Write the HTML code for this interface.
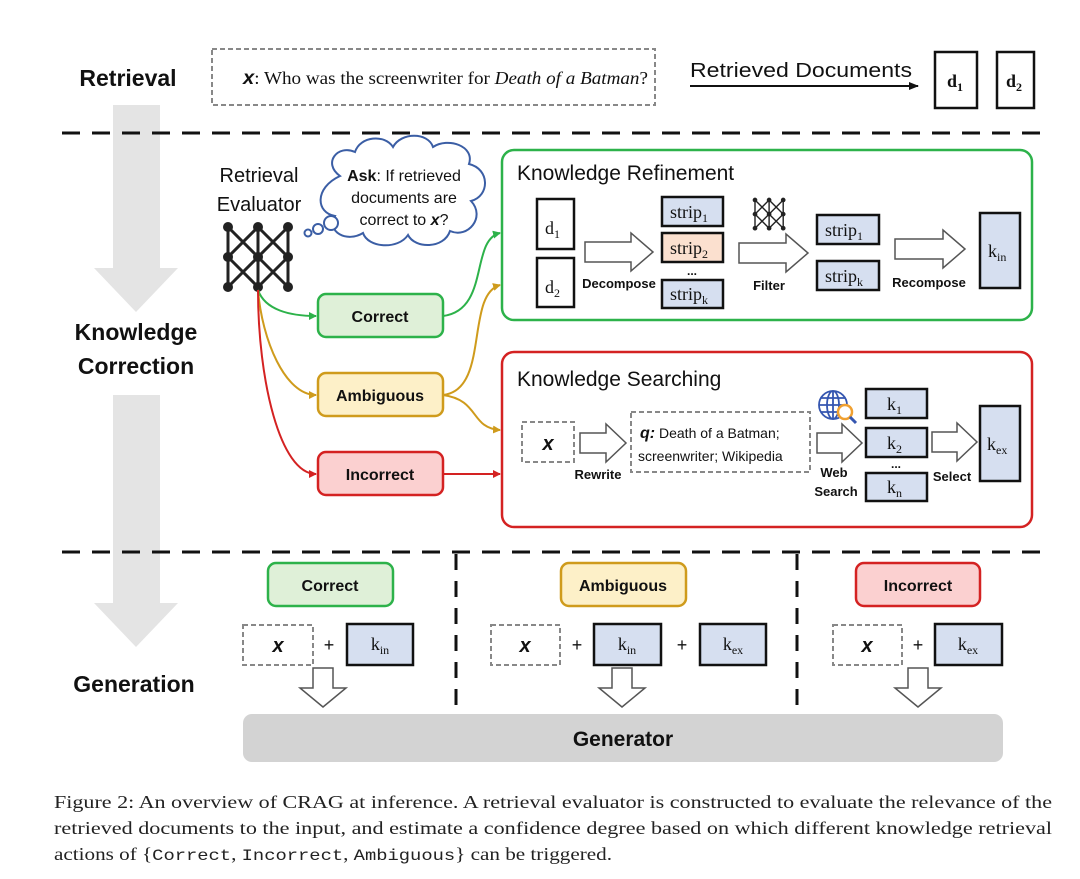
<!DOCTYPE html>
<html><head><meta charset="utf-8"><style>
html,body{margin:0;padding:0;background:#fff;}
svg{display:block;}
.s{font-family:"Liberation Sans",sans-serif;}
.sb{font-family:"Liberation Sans",sans-serif;font-weight:bold;}
.r{font-family:"Liberation Serif",serif;}
</style></head><body>
<svg width="1080" height="879" viewBox="0 0 1080 879" xmlns="http://www.w3.org/2000/svg">
<defs>
<g id="net">
 <g stroke="#222" stroke-width="3" fill="none">
  <line x1="0" y1="0" x2="0" y2="60"/><line x1="30" y1="0" x2="30" y2="60"/><line x1="60" y1="0" x2="60" y2="60"/>
  <line x1="0" y1="0" x2="30" y2="30"/><line x1="30" y1="0" x2="0" y2="30"/><line x1="30" y1="0" x2="60" y2="30"/><line x1="60" y1="0" x2="30" y2="30"/>
  <line x1="0" y1="30" x2="30" y2="60"/><line x1="30" y1="30" x2="0" y2="60"/><line x1="30" y1="30" x2="60" y2="60"/><line x1="60" y1="30" x2="30" y2="60"/>
 </g>
 <g fill="#222"><circle cx="0" cy="0" r="5"/><circle cx="30" cy="0" r="5"/><circle cx="60" cy="0" r="5"/><circle cx="0" cy="30" r="5"/><circle cx="30" cy="30" r="5"/><circle cx="60" cy="30" r="5"/><circle cx="0" cy="60" r="5"/><circle cx="30" cy="60" r="5"/><circle cx="60" cy="60" r="5"/></g>
</g>
<marker id="ag" markerWidth="8" markerHeight="8" refX="7" refY="4" orient="auto" markerUnits="userSpaceOnUse"><path d="M0,0 L8,4 L0,8 z" fill="#2db24a"/></marker>
<marker id="ay" markerWidth="8" markerHeight="8" refX="7" refY="4" orient="auto" markerUnits="userSpaceOnUse"><path d="M0,0 L8,4 L0,8 z" fill="#cf9b1c"/></marker>
<marker id="ar" markerWidth="8" markerHeight="8" refX="7" refY="4" orient="auto" markerUnits="userSpaceOnUse"><path d="M0,0 L8,4 L0,8 z" fill="#d42222"/></marker>
<marker id="ak" markerWidth="10" markerHeight="8" refX="9" refY="4" orient="auto" markerUnits="userSpaceOnUse"><path d="M0,0 L10,4 L0,8 z" fill="#111"/></marker>
</defs>

<polygon points="113,105 160,105 160,268 178,268 136,312 94,268 113,268" fill="#e4e4e4"/>
<polygon points="113,395 160,395 160,603 178,603 136,647 94,603 113,603" fill="#e4e4e4"/>

<text x="128" y="86" class="sb" font-size="23" text-anchor="middle" fill="#111">Retrieval</text>
<text x="136" y="340" class="sb" font-size="23" text-anchor="middle" fill="#111">Knowledge</text>
<text x="136" y="374" class="sb" font-size="23" text-anchor="middle" fill="#111">Correction</text>
<text x="134" y="692" class="sb" font-size="23" text-anchor="middle" fill="#111">Generation</text>

<rect x="212" y="49" width="443" height="56" fill="none" stroke="#888" stroke-width="2" stroke-dasharray="5,3"/>
<text x="243" y="84" class="r" font-size="18" fill="#111" textLength="405" lengthAdjust="spacingAndGlyphs"><tspan class="sb" font-style="italic" font-size="19">x</tspan>: Who was the screenwriter for <tspan font-style="italic">Death of a Batman</tspan>?</text>
<text x="690" y="77" class="s" font-size="20" fill="#111" textLength="222" lengthAdjust="spacingAndGlyphs">Retrieved Documents</text>
<line x1="690" y1="86" x2="918" y2="86" stroke="#111" stroke-width="2" marker-end="url(#ak)"/>
<rect x="935" y="52" width="42" height="56" fill="#fff" stroke="#111" stroke-width="2.5"/>
<text x="947" y="87" class="r" font-size="18" font-weight="bold" fill="#111">d<tspan font-size="12" dy="4">1</tspan></text>
<rect x="997" y="52" width="37" height="56" fill="#fff" stroke="#111" stroke-width="2.5"/>
<text x="1006" y="87" class="r" font-size="18" font-weight="bold" fill="#111">d<tspan font-size="12" dy="4">2</tspan></text>

<line x1="62" y1="133" x2="1045" y2="133" stroke="#111" stroke-width="3" stroke-dasharray="18,12"/>
<line x1="62" y1="552" x2="1045" y2="552" stroke="#111" stroke-width="3" stroke-dasharray="18,12"/>
<line x1="456" y1="554" x2="456" y2="715" stroke="#111" stroke-width="3" stroke-dasharray="16,11"/>
<line x1="797" y1="554" x2="797" y2="715" stroke="#111" stroke-width="3" stroke-dasharray="16,11"/>

<text x="259" y="182" class="s" font-size="20" text-anchor="middle" fill="#111">Retrieval</text>
<text x="259" y="211" class="s" font-size="20" text-anchor="middle" fill="#111">Evaluator</text>
<use href="#net" x="228" y="227"/>

<g fill="#fff" stroke="#3b5ea5" stroke-width="2">
<path d="M340,176 C322,163 338,144 355,152 C360,136 385,134 393,147 C401,132 428,132 433,147 C448,137 475,146 469,164 C490,169 490,196 471,201 C486,217 468,239 450,231 C444,249 415,249 408,235 C398,250 368,248 363,233 C347,243 326,232 335,216 C316,213 314,188 340,176 Z"/>
<circle cx="331" cy="223" r="7"/><circle cx="318" cy="229" r="5"/><circle cx="308" cy="233" r="3.5"/>
</g>
<text x="404" y="181" class="s" font-size="16" text-anchor="middle" fill="#111"><tspan font-weight="bold">Ask</tspan>: If retrieved</text>
<text x="404" y="203" class="s" font-size="16" text-anchor="middle" fill="#111">documents are</text>
<text x="404" y="225" class="s" font-size="16" text-anchor="middle" fill="#111">correct to <tspan font-weight="bold" font-style="italic">x</tspan>?</text>

<path d="M258,290 C265,310 290,316 316,316" fill="none" stroke="#2db24a" stroke-width="2" marker-end="url(#ag)"/>
<path d="M258,290 C262,340 285,395 316,395" fill="none" stroke="#cf9b1c" stroke-width="2" marker-end="url(#ay)"/>
<path d="M258,290 C258,380 280,474 316,474" fill="none" stroke="#d42222" stroke-width="2" marker-end="url(#ar)"/>
<path d="M443,316 C490,310 470,240 500,233" fill="none" stroke="#2db24a" stroke-width="2" marker-end="url(#ag)"/>
<path d="M443,395 C490,390 465,295 500,285" fill="none" stroke="#cf9b1c" stroke-width="2" marker-end="url(#ay)"/>
<path d="M443,395 C480,400 470,428 500,430" fill="none" stroke="#cf9b1c" stroke-width="2" marker-end="url(#ay)"/>
<line x1="443" y1="474" x2="500" y2="474" stroke="#d42222" stroke-width="2" marker-end="url(#ar)"/>

<rect x="318" y="294" width="125" height="43" rx="8" fill="#dff0d8" stroke="#2db24a" stroke-width="2.5"/>
<text x="380" y="322" class="sb" font-size="16" text-anchor="middle" fill="#111">Correct</text>
<rect x="318" y="373" width="125" height="43" rx="8" fill="#fdf0c8" stroke="#cf9b1c" stroke-width="2.5"/>
<text x="380" y="401" class="sb" font-size="16" text-anchor="middle" fill="#111">Ambiguous</text>
<rect x="318" y="452" width="125" height="43" rx="8" fill="#fbd0d0" stroke="#d42222" stroke-width="2.5"/>
<text x="380" y="480" class="sb" font-size="16" text-anchor="middle" fill="#111">Incorrect</text>

<rect x="502" y="150" width="530" height="170" rx="12" fill="none" stroke="#2db24a" stroke-width="2.5"/>
<text x="517" y="180" class="s" font-size="21" fill="#111">Knowledge Refinement</text>
<g stroke="#111" stroke-width="2.5">
<rect x="537" y="199" width="37" height="50" fill="#fff"/>
<rect x="537" y="258" width="37" height="49" fill="#fff"/>
<rect x="662" y="197" width="61" height="29" fill="#d6dff0"/>
<rect x="662" y="233" width="61" height="29" fill="#fbe0cf"/>
<rect x="662" y="280" width="61" height="28" fill="#d6dff0"/>
<rect x="817" y="215" width="62" height="29" fill="#d6dff0"/>
<rect x="817" y="261" width="62" height="29" fill="#d6dff0"/>
<rect x="980" y="213" width="40" height="75" fill="#d6dff0"/>
</g>
<g class="r" font-size="18" fill="#111">
<text x="545" y="234">d<tspan font-size="12" dy="4">1</tspan></text>
<text x="545" y="293">d<tspan font-size="12" dy="4">2</tspan></text>
<text x="670" y="218">strip<tspan font-size="12" dy="4">1</tspan></text>
<text x="670" y="254">strip<tspan font-size="12" dy="4">2</tspan></text>
<text x="670" y="300">strip<tspan font-size="12" dy="4">k</tspan></text>
<text x="825" y="236">strip<tspan font-size="12" dy="4">1</tspan></text>
<text x="825" y="282">strip<tspan font-size="12" dy="4">k</tspan></text>
<text x="988" y="257">k<tspan font-size="12" dy="4">in</tspan></text>
</g>
<text x="692" y="275" class="sb" font-size="12" text-anchor="middle" fill="#111">...</text>
<g fill="#fff" stroke="#555" stroke-width="1.5">
<polygon points="585,242 631,242 631,233 653,252 631,271 631,262 585,262"/>
<polygon points="739,243 786,243 786,234 808,253 786,272 786,263 739,263"/>
<polygon points="895,239 943,239 943,230 965,249 943,268 943,259 895,259"/>
</g>
<g class="sb" font-size="13" fill="#111" text-anchor="middle">
<text x="619" y="288">Decompose</text>
<text x="769" y="290">Filter</text>
<text x="929" y="287">Recompose</text>
</g>
<g transform="translate(755,200) scale(0.47)"><use href="#net"/></g>

<rect x="502" y="352" width="530" height="175" rx="12" fill="none" stroke="#d42222" stroke-width="2.5"/>
<text x="517" y="386" class="s" font-size="21" fill="#111">Knowledge Searching</text>
<rect x="522" y="422" width="52" height="40" fill="#fff" stroke="#888" stroke-width="2" stroke-dasharray="5,3"/>
<text x="548" y="450" class="sb" font-size="20" font-style="italic" text-anchor="middle" fill="#111">x</text>
<rect x="631" y="412" width="179" height="60" fill="#fff" stroke="#888" stroke-width="2" stroke-dasharray="5,3"/>
<text x="640" y="438" class="s" font-size="14" fill="#111"><tspan font-weight="bold" font-style="italic" font-size="16">q:</tspan> Death of a Batman;</text>
<text x="638" y="461" class="s" font-size="14" fill="#111">screenwriter; Wikipedia</text>
<g fill="#fff" stroke="#555" stroke-width="1.5">
<polygon points="580,433 606,433 606,424 626,443 606,462 606,453 580,453"/>
<polygon points="817,433 842,433 842,424 862,443 842,462 842,453 817,453"/>
<polygon points="932,432 957,432 957,423 977,442 957,461 957,452 932,452"/>
</g>
<g stroke="#111" stroke-width="2.5" fill="#d6dff0">
<rect x="866" y="389" width="61" height="29"/>
<rect x="866" y="428" width="61" height="29"/>
<rect x="866" y="473" width="61" height="28"/>
<rect x="980" y="406" width="40" height="75"/>
</g>
<g class="r" font-size="18" fill="#111">
<text x="887" y="410">k<tspan font-size="12" dy="4">1</tspan></text>
<text x="887" y="449">k<tspan font-size="12" dy="4">2</tspan></text>
<text x="887" y="493">k<tspan font-size="12" dy="4">n</tspan></text>
<text x="987" y="450">k<tspan font-size="12" dy="4">ex</tspan></text>
</g>
<text x="896" y="468" class="sb" font-size="12" text-anchor="middle" fill="#111">...</text>
<g class="sb" font-size="13" fill="#111" text-anchor="middle">
<text x="598" y="479">Rewrite</text>
<text x="834" y="477">Web</text>
<text x="836" y="496">Search</text>
<text x="952" y="481">Select</text>
</g>
<g fill="none" stroke="#3556b0" stroke-width="1.8">
<circle cx="833" cy="405" r="14"/>
<ellipse cx="833" cy="405" rx="6" ry="14"/>
<line x1="819" y1="405" x2="847" y2="405"/><line x1="833" y1="391" x2="833" y2="419"/>
<line x1="821" y1="398" x2="845" y2="398"/><line x1="821" y1="412" x2="845" y2="412"/>
</g>
<circle cx="845" cy="412" r="7" fill="#fff" stroke="#f0a030" stroke-width="2.5"/>
<line x1="850" y1="417" x2="856" y2="423" stroke="#3556b0" stroke-width="3"/>

<rect x="268" y="563" width="125" height="43" rx="8" fill="#dff0d8" stroke="#2db24a" stroke-width="2.5"/>
<text x="330" y="591" class="sb" font-size="16" text-anchor="middle" fill="#111">Correct</text>
<rect x="561" y="563" width="125" height="43" rx="8" fill="#fdf0c8" stroke="#cf9b1c" stroke-width="2.5"/>
<text x="623" y="591" class="sb" font-size="16" text-anchor="middle" fill="#111">Ambiguous</text>
<rect x="856" y="563" width="124" height="43" rx="8" fill="#fbd0d0" stroke="#d42222" stroke-width="2.5"/>
<text x="918" y="591" class="sb" font-size="16" text-anchor="middle" fill="#111">Incorrect</text>

<g fill="#fff" stroke="#888" stroke-width="2" stroke-dasharray="5,3">
<rect x="243" y="625" width="70" height="40"/>
<rect x="491" y="625" width="69" height="40"/>
<rect x="833" y="625" width="69" height="40"/>
</g>
<g class="sb" font-size="20" font-style="italic" text-anchor="middle" fill="#111">
<text x="278" y="652">x</text><text x="525" y="652">x</text><text x="867" y="652">x</text>
</g>
<g stroke="#111" stroke-width="2.5" fill="#d6dff0">
<rect x="347" y="624" width="66" height="41"/>
<rect x="594" y="624" width="67" height="41"/>
<rect x="700" y="624" width="66" height="41"/>
<rect x="935" y="624" width="67" height="41"/>
</g>
<g class="r" font-size="18" fill="#111" text-anchor="middle">
<text x="380" y="650">k<tspan font-size="12" dy="4">in</tspan></text>
<text x="627" y="650">k<tspan font-size="12" dy="4">in</tspan></text>
<text x="733" y="650">k<tspan font-size="12" dy="4">ex</tspan></text>
<text x="968" y="650">k<tspan font-size="12" dy="4">ex</tspan></text>
</g>
<g class="s" font-size="18" fill="#111" text-anchor="middle">
<text x="329" y="651">+</text><text x="577" y="651">+</text><text x="682" y="651">+</text><text x="918" y="651">+</text>
</g>
<g fill="#fff" stroke="#555" stroke-width="1.5">
<polygon points="313,668 333,668 333,688 346,688 323,707 300,688 313,688"/>
<polygon points="612,668 632,668 632,688 645,688 622,707 599,688 612,688"/>
<polygon points="908,668 928,668 928,688 941,688 918,707 895,688 908,688"/>
</g>
<rect x="243" y="714" width="760" height="48" rx="9" fill="#d3d3d3"/>
<text x="623" y="746" class="sb" font-size="21" text-anchor="middle" fill="#111">Generator</text>

<g class="r" font-size="18" fill="#222">
<text x="54" y="808" textLength="998" lengthAdjust="spacingAndGlyphs">Figure 2: An overview of CRAG at inference. A retrieval evaluator is constructed to evaluate the relevance of the</text>
<text x="54" y="834" textLength="998" lengthAdjust="spacingAndGlyphs">retrieved documents to the input, and estimate a confidence degree based on which different knowledge retrieval</text>
<text x="54" y="860" textLength="558" lengthAdjust="spacingAndGlyphs">actions of {<tspan font-family="Liberation Mono, monospace" font-size="16">Correct</tspan>, <tspan font-family="Liberation Mono, monospace" font-size="16">Incorrect</tspan>, <tspan font-family="Liberation Mono, monospace" font-size="16">Ambiguous</tspan>} can be triggered.</text>
</g>
</svg>
</body></html>
